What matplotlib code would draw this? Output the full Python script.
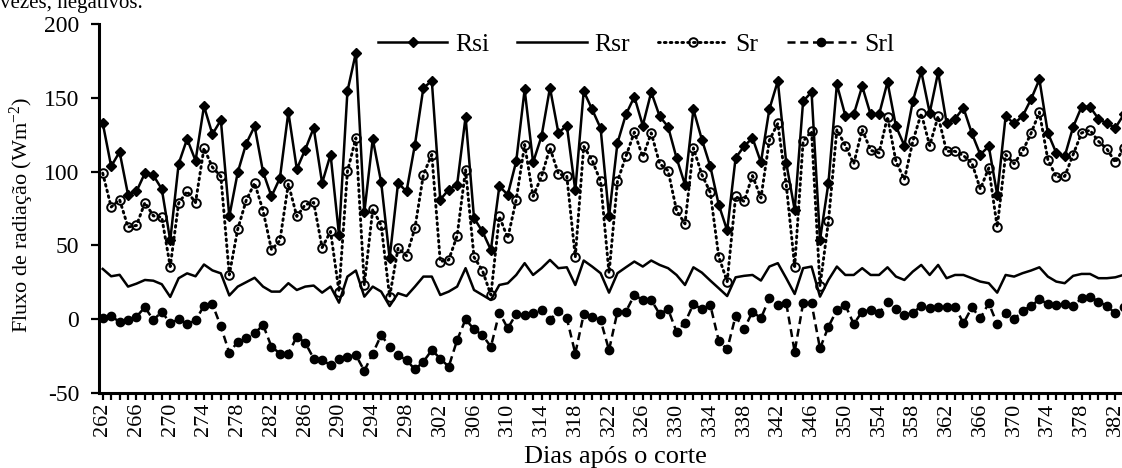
import matplotlib
matplotlib.use("Agg")
import matplotlib.pyplot as plt
import numpy as np

plt.rcParams['font.family'] = ['Liberation Serif', 'DejaVu Serif']
plt.rcParams['mathtext.fontset'] = 'custom'
plt.rcParams['mathtext.rm'] = 'Liberation Serif'
plt.rcParams['mathtext.it'] = 'Liberation Serif:italic'

days = list(range(262, 384))

rsi = [133, 103.6, 113.4, 84.4, 86.6, 99, 97.5, 88.2, 53.3, 105.4, 122.2, 107.5, 144.4, 125.4, 135, 69.6, 99.5, 119, 130.8, 99.8,
       83.2, 95.7, 140.4, 101.8, 115, 129.7, 92.3, 111.6, 57.1, 154.6, 180.7, 72.3, 122.2, 92.7, 41.3, 92.3, 86.6, 118.4, 156.9, 161.5,
       81, 87.8, 91.2, 137.2, 68.5, 59.4, 46.9, 90, 84.4, 107, 155.8, 106.3, 124, 156.9, 126.3, 131.3, 87.3, 154.6, 142.2, 129.5,
       69.6, 119.5, 138.8, 150.8, 131.3, 154, 137.6, 130.4, 109.3, 91.2, 142.2, 121.8, 103.6, 77.6, 60.1, 109.3, 117.2, 122.9, 106.3, 142.4,
       161.5, 105.9, 74.1, 147.8, 154, 53.7, 92.3, 159.2, 138.1, 138.8, 158, 138.8, 138.8, 160.8, 130.8, 117.7, 147.8, 168, 139.9, 167.5,
       133.1, 135.8, 143.3, 125.9, 111.6, 117.2, 84.4, 137.6, 132.7, 137.6, 149, 162.6, 126.3, 112.7, 110.4, 130.4, 144, 144, 135.8, 132.7, 129.7, 138.8]

rsr = [34, 29, 30, 22, 24, 26.5, 26, 23.6, 15, 27.7, 31, 29, 37, 33, 31, 16, 22, 25, 28, 22,
       18.6, 18.6, 24.3, 19.7, 22, 22.7, 17.9, 22, 11.1, 28.8, 32.9, 15.2, 22, 18.6, 8.8, 17.5, 15.6, 22, 28.8, 28.8,
       16.3, 18.6, 22, 34.5, 19.7, 16.3, 12.9, 23.1, 24.3, 29.9, 37.9, 29.9, 34.5, 40.1, 34.5, 35.1, 23.1, 39.7, 35.6, 31.1,
       17.9, 31.1, 35.1, 39, 35.6, 39.7, 36.7, 34.5, 29.9, 23.1, 35.1, 31.5, 26.1, 20.9, 15.6, 28.3, 29.3, 29.9, 26.1, 35.6,
       37.9, 27.7, 17, 34.5, 35.6, 15.2, 26.5, 35.6, 29.9, 29.9, 34.5, 29.9, 29.9, 35.1, 28.8, 26.5, 32.2, 36.7, 29.9, 36.7,
       27.7, 29.9, 29.9, 27.7, 25.4, 24.3, 17.9, 29.9, 28.8, 31.1, 32.9, 35.1, 28.8, 25.4, 24.3, 29.3, 30.6, 30.6, 27.7, 27.7, 28.3, 30]

sr = [99, 76, 81, 62.4, 63.5, 79, 70, 69, 35.6, 78.7, 86.6, 79, 116, 103, 96.8, 30, 61, 80.5, 92.3, 73.5,
      47, 53.3, 91.8, 69.6, 77.6, 79.1, 48.5, 59.4, 18.6, 100.2, 122.9, 23.1, 74.6, 63.5, 15.2, 48.1, 42.9, 61.7, 98, 111.6,
      39, 40.1, 56.5, 101.4, 42, 32.9, 16.3, 69.6, 54.9, 81, 118.4, 83.2, 96.8, 116.1, 98.6, 96.8, 42, 117.2, 107.7, 93.4,
      31, 93.4, 110.4, 126.8, 110, 126.3, 105.4, 100.7, 73.7, 64.6, 116.1, 98, 85.9, 42.4, 25.4, 83.2, 79.8, 97.3, 82.1, 121.3,
      132.7, 91.2, 35.6, 120.6, 127.4, 22.4, 66.2, 128.6, 117.7, 105.4, 128.6, 114.5, 112.7, 137.2, 107, 94.6, 120.6, 139.5, 117.7, 137.6,
      113.8, 113.8, 110.9, 105.9, 88.2, 102.5, 62.4, 111.6, 105.4, 113.8, 125.9, 140.4, 108.2, 96.4, 96.8, 111.6, 126.3, 128.1, 120.6, 115.4, 106.3, 116]

srl = [1, 2, -2, -0.7, 1.6, 8, -0.7, 5, -3, 0, -3.4, -1, 9, 10, -5, -23, -15.4, -13, -9.8, -4,
       -18.8, -23.4, -23.4, -12, -16.1, -26.8, -27.9, -31.3, -27.4, -25.6, -24.5, -35.1, -23.4, -10.9, -18.8, -24.5, -27.9, -34.2, -29, -21.1,
       -26.8, -32.4, -14.3, -0.2, -7, -10.9, -18.8, 4.3, -6.3, 3.4, 2.7, 4.3, 6.1, -0.7, 5.7, 0.5, -23.4, 3.2, 1.6, -0.7,
       -21.1, 5, 5, 16.3, 12.9, 12.9, 3.4, 6.6, -8.6, -2.5, 10.2, 6.6, 9.5, -14.7, -20.6, 2, -7, 5, 0.5, 14.1,
       9.5, 10.7, -22.2, 10.7, 10.7, -20, -5.2, 6.1, 9.5, -3.4, 5, 6.1, 3.9, 11.8, 6.6, 2.7, 4.3, 8.8, 7.3, 7.9,
       8.4, 8.4, -2.9, 7.9, 0.5, 10.7, -3.4, 3.9, -0.2, 5.7, 8.8, 13.4, 10.2, 9.5, 10.2, 8.8, 14.1, 15.2, 11.8, 8.8, 3.9, 7.9]

series_names = ["Rsi", "Rsr", "Sr", "Srl"]
x_tick_labels = [str(d) for d in range(262, 383, 4)]
y_ticks = [-50, 0, 50, 100, 150, 200]

W, H = 1122, 468
fig = plt.figure(figsize=(W / 100, H / 100), dpi=100)
left_px, right_px = 98.5, 1128.0
bottom_px, top_px = 392.7, 24.3
ax = fig.add_axes([left_px / W, 1 - bottom_px / H, (right_px - left_px) / W, (bottom_px - top_px) / H])

lw = 1.8
ax.plot(days, rsi, color='black', lw=lw, marker='D', ms=5.0, mfc='black', mec='black', label=series_names[0], zorder=4)
ax.plot(days, rsr, color='black', lw=lw, label=series_names[1], zorder=3)
ax.plot(days, sr, color='black', lw=2.1, linestyle=(0, (0.6, 1.4)), dash_capstyle='round',
        marker='o', ms=6.2, mfc='none', mec='black', mew=1.4, label=series_names[2], zorder=3)
ax.plot(days, srl, color='black', lw=lw, linestyle=(0, (3.2, 1.9)),
        marker='o', ms=6.0, mfc='black', mec='black', label=series_names[3], zorder=3)

ax.set_xlim(261.5, 383.5)
ax.set_ylim(-50, 200)
ax.set_yticks(y_ticks)
ax.set_yticklabels([str(v) for v in y_ticks], fontsize=17)
ax.set_xticks(list(range(262, 383, 4)))
ax.set_xticklabels(x_tick_labels, rotation=90, fontsize=16)
ax.set_xticks(days, minor=True)
ax.tick_params(axis='x', which='both', direction='out', length=5, width=1.6, pad=2)
ax.tick_params(axis='y', which='major', direction='out', length=6, width=1.6, pad=8)

for s in ['top', 'right']:
    ax.spines[s].set_visible(False)
for s in ['left', 'bottom']:
    ax.spines[s].set_linewidth(2.2)

fig.text(22 / W, 1 - 215 / H, r"Fluxo de radiação (Wm$^{\mathregular{-2}}$)", fontsize=16,
         rotation=90, ha='center', va='center')
fig.text(615 / W, 1 - 457 / H, "Dias após o corte", fontsize=19, ha='center', va='center')

leg = ax.legend(loc='center', bbox_to_anchor=(636 / W, 1 - 45 / H), bbox_transform=fig.transFigure,
                ncol=4, frameon=False, fontsize=18.5, handlelength=2.7, columnspacing=1.1,
                handletextpad=0.3)
for h in leg.legend_handles:
    if hasattr(h, 'set_markevery'):
        h.set_markevery([1])

fig.text(0.0, 1 - 8 / H, "vezes, negativos.", fontsize=15, va='baseline', ha='left')

fig.savefig("out.png", dpi=100)
